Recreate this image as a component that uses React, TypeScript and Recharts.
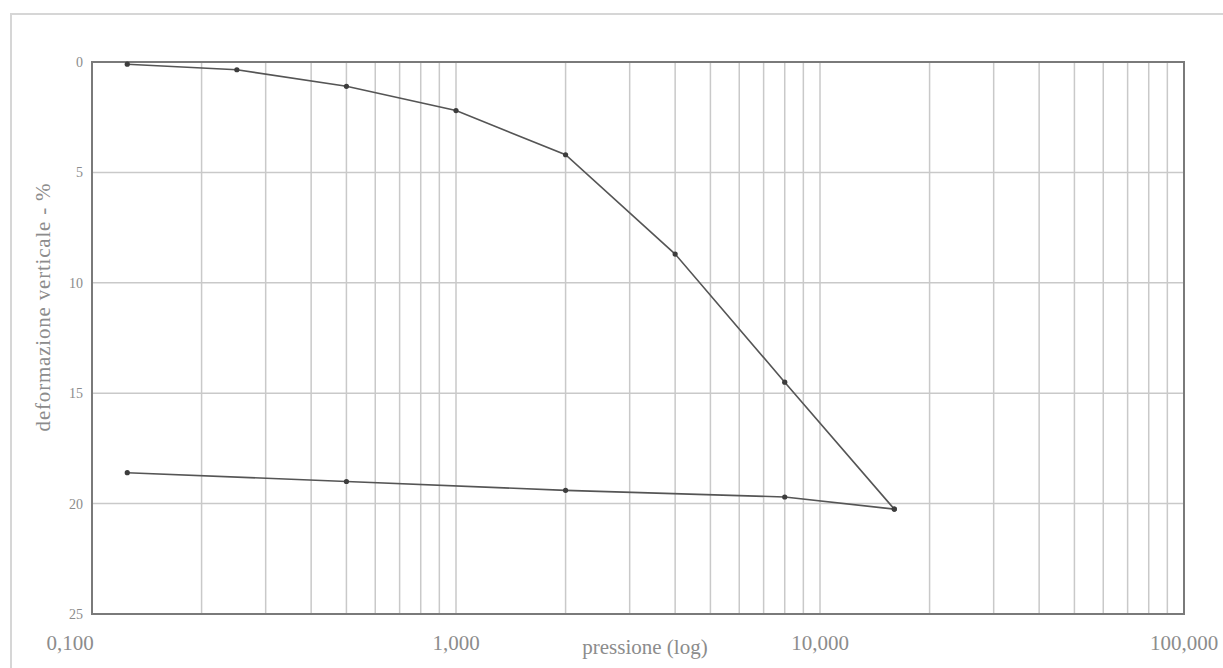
import {
  LineChart,
  Line,
  XAxis,
  YAxis,
  CartesianGrid,
  ReferenceArea,
  Label,
} from 'recharts'

// pressure steps (log scale) and vertical strain, loading then unloading branch
const loadPressure = [0.125, 0.25, 0.5, 1, 2, 4, 8, 16]
const loadStrain = [0.1, 0.35, 1.1, 2.2, 4.2, 8.7, 14.5, 20.25]
const unloadPressure = [16, 8, 2, 0.5, 0.125]
const unloadStrain = [20.25, 19.7, 19.4, 19.0, 18.6]

const decades = [0.1, 1, 10, 100]
const strainTicks = [0, 5, 10, 15, 20, 25]

// grid lines at 1..9 of every decade
const gridTicks: number[] = []
for (const d of decades.slice(0, 3)) {
  for (let k = 1; k < 10; k++) gridTicks.push(+(d * k).toPrecision(3))
}
gridTicks.push(100)

const loadRows = loadPressure.map((p, i) => ({ p, s: loadStrain[i] }))
const unloadRows = unloadPressure.map((p, i) => ({ p, s: unloadStrain[i] }))

const TEXT = '#8c8c8c'
const FONT = '"Liberation Serif", "DejaVu Serif", serif'

const fmtDecade = (v: number) => v.toFixed(3).replace('.', ',')

const DecadeTick = ({ x, y, payload }: any) => {
  const v = payload.value
  if (!decades.includes(v)) return null
  const dx = v === 0.1 ? -22 : 0
  return (
    <text x={x + dx} y={y + 28} textAnchor="middle" fill={TEXT} fontSize={21} fontFamily={FONT}>
      {fmtDecade(v)}
    </text>
  )
}

const Dot = ({ cx, cy }: any) => <circle cx={cx} cy={cy} r={2.6} fill="#3d3d3d" />

export default function App() {
  return (
    <div style={{ position: 'absolute', left: 0, top: 0, width: 1223, height: 668, background: '#fff' }}>
      <div
        style={{
          position: 'absolute',
          left: 10,
          top: 13,
          width: 1213,
          height: 655,
          borderLeft: '2px solid #d6d6d6',
          borderTop: '2px solid #d6d6d6',
        }}
      />
      <div style={{ position: 'absolute', left: 0, top: 0 }}>
        <LineChart width={1223} height={668} margin={{ top: 62, right: 39, left: 32, bottom: 14 }}>
          <CartesianGrid stroke="#c9c9c9" strokeWidth={1.5} />
          <XAxis
            type="number"
            dataKey="p"
            scale="log"
            domain={[0.1, 100]}
            ticks={gridTicks}
            allowDataOverflow
            interval={0}
            tick={<DecadeTick />}
            tickLine={false}
            axisLine={false}
            height={40}
          >
            <Label
              value="pressione (log)"
              position="insideBottom"
              offset={0}
              dx={7}
              fill={TEXT}
              fontSize={21}
              fontFamily={FONT}
            />
          </XAxis>
          <YAxis
            type="number"
            dataKey="s"
            domain={[0, 25]}
            reversed
            ticks={strainTicks}
            tickLine={false}
            axisLine={false}
            tickMargin={3}
            width={60}
            tick={{ fill: TEXT, fontSize: 14, fontFamily: FONT }}
          >
            <Label
              content={({ viewBox }: any) => {
                const cx = viewBox.x + 11
                const cy = viewBox.y + viewBox.height / 2 - 31
                return (
                  <text
                    x={cx}
                    y={cy}
                    transform={`rotate(-90 ${cx} ${cy})`}
                    textAnchor="middle"
                    dominantBaseline="central"
                    fill={TEXT}
                    fontSize={21}
                    letterSpacing={0.8}
                    fontFamily={FONT}
                  >
                    deformazione verticale - %
                  </text>
                )
              }}
            />
          </YAxis>
          <ReferenceArea x1={0.1} x2={100} y1={0} y2={25} fill="none" stroke="#7a7a7a" strokeWidth={2} />
          <Line
            data={loadRows}
            dataKey="s"
            type="linear"
            stroke="#555"
            strokeWidth={1.6}
            dot={<Dot />}
            isAnimationActive={false}
          />
          <Line
            data={unloadRows}
            dataKey="s"
            type="linear"
            stroke="#555"
            strokeWidth={1.6}
            dot={<Dot />}
            isAnimationActive={false}
          />
        </LineChart>
      </div>
    </div>
  )
}
